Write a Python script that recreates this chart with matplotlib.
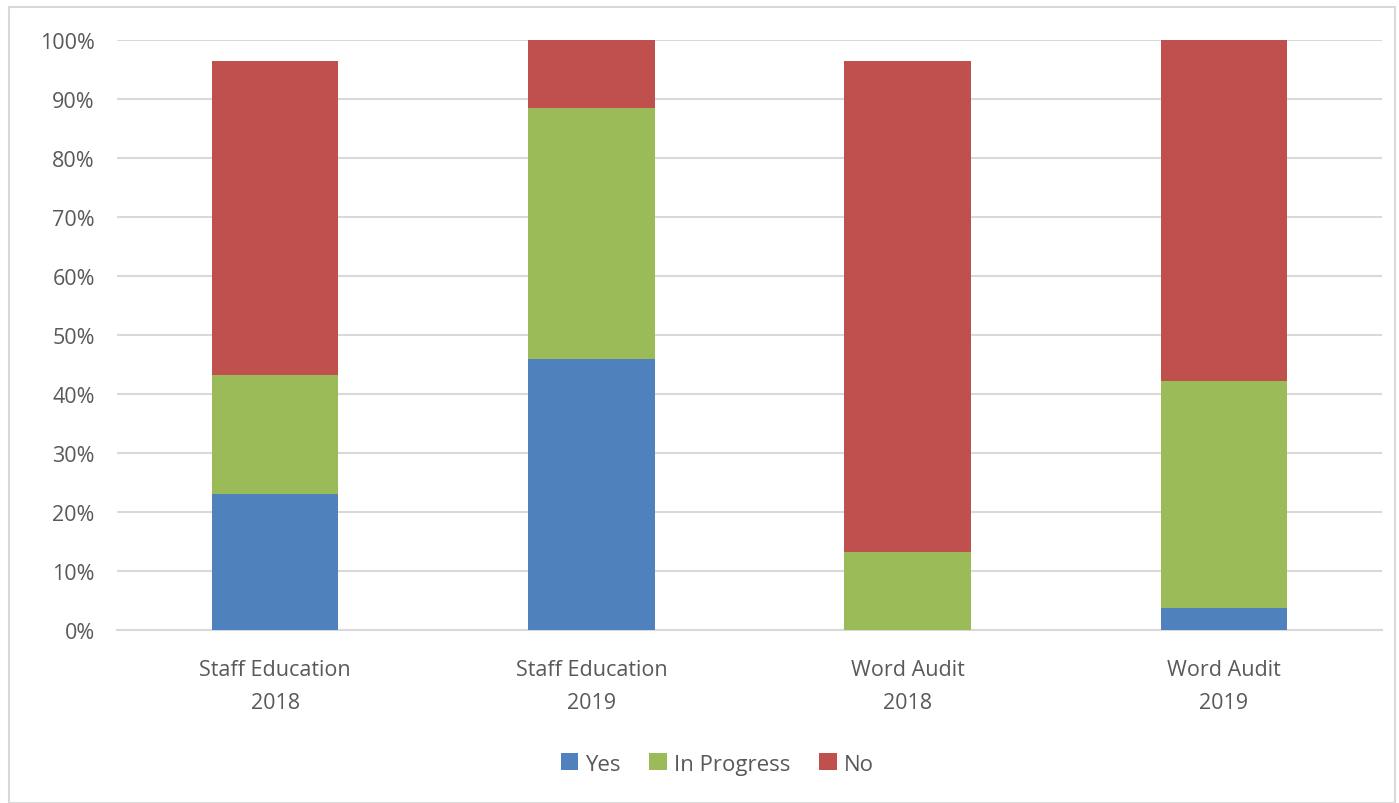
import matplotlib.pyplot as plt
import matplotlib.patches as mpatches
import numpy as np

categories = ['Staff Education\n2018', 'Staff Education\n2019', 'Word Audit\n2018', 'Word Audit\n2019']
yes = [23.1, 45.9, 0.0, 3.7]
in_progress = [20.1, 42.6, 13.3, 38.5]
no = [53.2, 11.5, 83.1, 57.8]

colors = {'Yes': '#4f81bd', 'In Progress': '#9bbb59', 'No': '#c0504d'}

plt.rcParams['font.family'] = ['Open Sans', 'DejaVu Sans']

fig = plt.figure(figsize=(13.99, 8.04), dpi=100)
ax = fig.add_axes([117 / 1399, 1 - 631 / 804, 1265 / 1399, 590 / 804])

# outer chart border
fig.patches.append(mpatches.Rectangle((9 / 1399, 0), 1386 / 1399, 1 - 8 / 804,
                                      transform=fig.transFigure, fill=False,
                                      edgecolor='#d9d9d9', linewidth=1.5))

x = np.arange(len(categories))
w = 0.40
bottom2 = np.array(yes) + np.array(in_progress)
ax.bar(x, yes, w, color=colors['Yes'], label='Yes', zorder=3)
ax.bar(x, in_progress, w, bottom=yes, color=colors['In Progress'], label='In Progress', zorder=3)
ax.bar(x, no, w, bottom=bottom2, color=colors['No'], label='No', zorder=3)

ax.set_xlim(-0.5, 3.5)
ax.set_ylim(0, 100)
ax.set_yticks(range(0, 101, 10))
ax.set_yticklabels([f'{v}%' for v in range(0, 101, 10)])
ax.yaxis.grid(True, color='#d9d9d9', linewidth=1.5, zorder=0)
ax.set_xticks(x)
ax.set_xticklabels(categories, linespacing=1.75)
ax.tick_params(axis='both', length=0, labelsize=15.5, colors='#595959')
ax.tick_params(axis='x', pad=21)
ax.tick_params(axis='y', pad=16)
for s in ['top', 'right', 'left']:
    ax.spines[s].set_visible(False)
ax.spines['bottom'].set_color('#d9d9d9')
ax.spines['bottom'].set_linewidth(1.5)

leg = fig.legend(loc='center', bbox_to_anchor=(717 / 1399, 1 - 765 / 804), ncol=3,
                 frameon=False, fontsize=16, handlelength=0.8, handleheight=0.8,
                 handletextpad=0.3, columnspacing=1.3)
for t in leg.get_texts():
    t.set_color('#595959')

fig.savefig('out.png', dpi=100)
